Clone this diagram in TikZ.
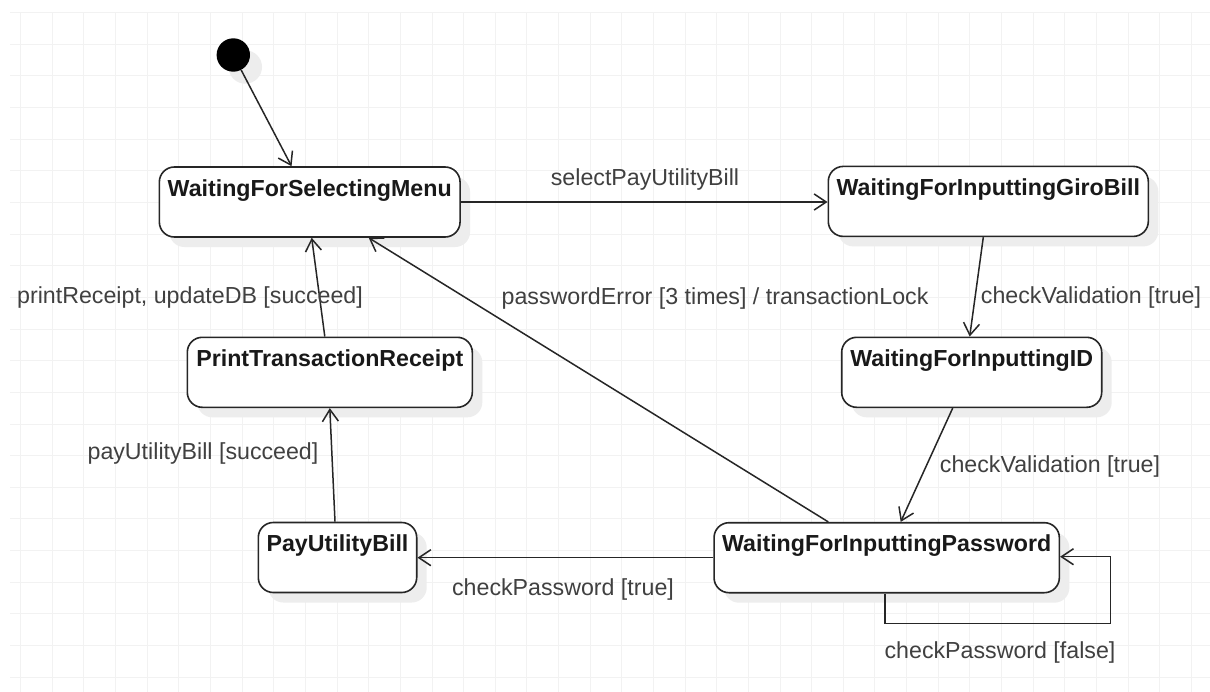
\documentclass[tikz,border=0pt]{standalone}
\usepackage{fontspec}
\setmainfont{Liberation Sans}
\usetikzlibrary{arrows.meta,calc,shadows}
\begin{document}
\begin{tikzpicture}[x=1pt,y=-1pt,
 box/.style={draw=black!85, line width=1.6pt, rounded corners=15pt, fill=white, inner sep=0pt, minimum height=70pt,
   drop shadow={shadow xshift=10pt, shadow yshift=-10pt, fill=black!7, opacity=1}},
 btxt/.style={font=\fontsize{23.2}{27}\selectfont\bfseries, text=black!90, inner sep=0pt},
 lbl/.style={font=\fontsize{23.2}{27}\selectfont, text=black!75, inner sep=0pt},
 conn/.style={line width=1.5pt, draw=black!85, -{Straight Barb[length=12pt,width=16pt,line width=1.5pt]}},
 gridc/.style={draw=black!5, line width=1pt}
]
\useasboundingbox (0,0) rectangle (1210,691);
\fill[white] (0,0) rectangle (1210,691);
\begin{scope}
\clip (10,12.7) rectangle (1210,691);
\foreach \i in {0,...,37} \draw[gridc] ({20.7+31.64*\i},12.7) -- ++(0,700);
\foreach \j in {0,...,21} \draw[gridc] (10,{12.7+31.64*\j}) -- ++(1200,0);
\end{scope}

% states
\node[circle, fill=black, minimum size=33.4pt, inner sep=0pt,
  drop shadow={shadow xshift=12pt, shadow yshift=-12pt, fill=black!7, opacity=1}] (init) at (233.3,55) {};
\node[box, minimum width=300.7pt] (menu) at (309.7,202) {};
\node[box, minimum width=320pt] (giro) at (988.3,201.4) {};
\node[box, minimum width=260pt] (id) at (971.7,372.3) {};
\node[box, minimum width=285pt] (print) at (329.8,372.3) {};
\node[box, minimum width=158.4pt] (pay) at (337.5,557.5) {};
\node[box, minimum width=345.3pt] (pw) at (886.7,557.7) {};

\node[btxt] (menuT) at ($(menu.north)+(0,24)$) {WaitingForSelectingMenu};
\node[btxt] (giroT) at ($(giro.north)+(0,24)$) {WaitingForInputtingGiroBill};
\node[btxt] (idT) at ($(id.north)+(0,24)$) {WaitingForInputtingID};
\node[btxt] (printT) at ($(print.north)+(0,24)$) {PrintTransactionReceipt};
\node[btxt] (payT) at ($(pay.north)+(0,24)$) {PayUtilityBill};
\node[btxt] (pwT) at ($(pw.north)+(0,24)$) {WaitingForInputtingPassword};

% connectors
\coordinate (menuIn) at ($(menu.north west)+(133,0)$);
\draw[conn] (init) -- (menuIn);
\draw[conn] (menu.east) -- (giro.west |- menu.east);
\draw[conn] ($(giro.south)+(-5,0)$) -- ($(id.north)+(-2,0)$);
\draw[conn] ($(id.south)+(-19,0)$) -- ($(pw.north)+(14,0)$);
\draw[conn] ($(pw.north)+(-58.4,0)$) -- ($(menu.south)+(59,0)$);
\draw[conn] (pw.west) -- (pay.east |- pw.west);
\draw[conn] ($(pay.north)+(-2.5,0)$) -- (print.south);
\draw[conn] ($(print.north)+(-5,0)$) -- ($(menu.south)+(2,0)$);
\coordinate (loopR) at ($(pw.east)+(50.4,-1)$);
\draw[conn] ($(pw.south)+(-1.7,0)$) -- ++(0,30) -| (loopR) -- ($(pw.east)+(0,-1)$);

% labels
\node[lbl] (l1) at (645,179) {selectPayUtilityBill};
\node[lbl] (l2) at (190,297) {printReceipt, updateDB [succeed]};
\node[lbl] (l3) at (715,298) {passwordError [3 times] / transactionLock};
\node[lbl] (l4) at (1091,297) {checkValidation [true]};
\node[lbl] (l5) at (1050,466) {checkValidation [true]};
\node[lbl] (l6) at (203,453) {payUtilityBill [succeed]};
\node[lbl] (l7) at (563,589) {checkPassword [true]};
\node[lbl] (l8) at (1000,652) {checkPassword [false]};
\end{tikzpicture}
\end{document}
